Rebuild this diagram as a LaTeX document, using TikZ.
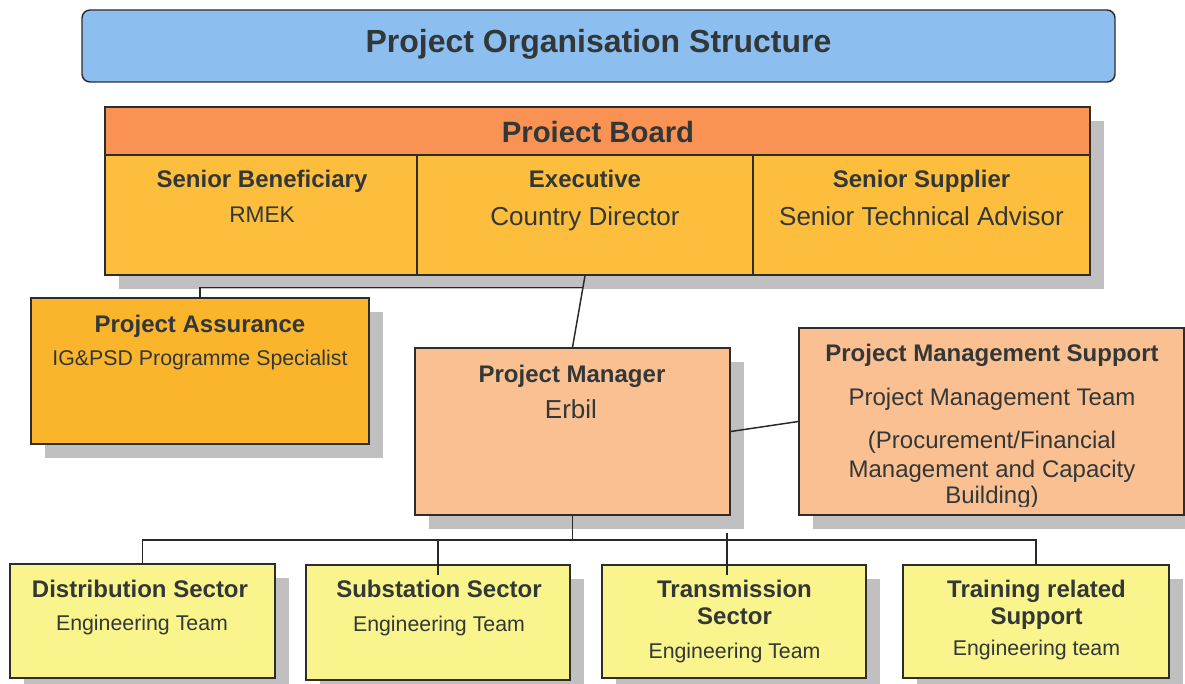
\documentclass[tikz,border=0pt]{standalone}
\usepackage{fontspec}
\setmainfont{Liberation Sans}
\usetikzlibrary{fit,shadows}
\definecolor{titleblue}{RGB}{141,190,240}
\definecolor{hdrorange}{RGB}{249,146,82}
\definecolor{cellorange}{RGB}{253,190,62}
\definecolor{paorange}{RGB}{250,181,45}
\definecolor{pmsalmon}{RGB}{251,192,146}
\definecolor{botyellow}{RGB}{250,244,140}
\definecolor{shgray}{RGB}{192,192,192}
\definecolor{boxline}{RGB}{45,45,45}
\definecolor{linec}{RGB}{40,40,40}
\definecolor{textc}{RGB}{50,55,55}
\begin{document}
\begin{tikzpicture}[x=0.75pt,y=-0.75pt,
  box/.style={draw=boxline, line width=1.1pt, inner sep=0pt},
  shd/.style={drop shadow={shadow xshift=10.5pt, shadow yshift=-10.5pt, fill=shgray, opacity=1}},
  lbl/.style={anchor=base, inner sep=0pt, text=textc},
  ftitle/.style={font=\fontsize{24}{28}\selectfont\bfseries},
  fhdr/.style={font=\fontsize{22}{26}\selectfont\bfseries},
  fb/.style={font=\fontsize{18}{21}\selectfont\bfseries},
  fr/.style={font=\fontsize{18}{21}\selectfont},
  fbig/.style={font=\fontsize{19.5}{23}\selectfont},
  frmek/.style={font=\fontsize{17}{20}\selectfont},
  fsmall/.style={font=\fontsize{16}{19}\selectfont},
  conn/.style={draw=linec, line width=1.1pt}
]
\useasboundingbox (0,0) rectangle (1185,684);
\fill[white] (0,0) rectangle (1185,684);

% title
\node[box, fill=titleblue, rounded corners=6pt, fit={(82,10)(1115,82)}] (title) {};
\node[lbl, ftitle] (titletext) at (598.5,53) {Project Organisation Structure};

% project board
\node[box, shd, fill=cellorange, fit={(105,107)(1090,275)}] (board) {};
\node[box, fill=hdrorange, fit={(105,107)(1090,155)}] (header) {};
\node[box, fill=cellorange, fit={(105,155)(417,275)}] (sb) {};
\node[box, fill=cellorange, fit={(417,155)(753,275)}] (ex) {};
\node[box, fill=cellorange, fit={(753,155)(1090,275)}] (ss) {};
\node[lbl, fhdr] (headertext) at (598,143) {Proiect Board};
\node[lbl, fb] (sb1) at (262,188) {Senior Beneficiary};
\node[lbl, frmek] (sb2) at (262,223) {RMEK};
\node[lbl, fb] (ex1) at (585,188) {Executive};
\node[lbl, fbig] (ex2) at (585,226) {Country Director};
\node[lbl, fb] (ss1) at (921.5,188) {Senior Supplier};
\node[lbl, fbig] (ss2) at (921.5,226) {Senior Technical Advisor};

% project assurance
\node[box, shd, fill=paorange, fit={(31,298)(369,444)}] (pa) {};
\node[lbl, fb] (pa1) at (200,332) {Project Assurance};
\node[lbl, fsmall] (pa2) at (200,365) {IG\&PSD Programme Specialist};

% project manager
\node[box, shd, fill=pmsalmon, fit={(415,348)(730,515)}] (pm) {};
\node[lbl, fb] (pm1) at (572,382) {Project Manager};
\node[lbl, fbig] (pm2) at (571,418) {Erbil};

% project management support
\node[box, shd, fill=pmsalmon, fit={(799,328)(1184,515)}] (pms) {};
\node[lbl, fb] (pms1) at (992,361) {Project Management Support};
\node[lbl, fr] (pms2) at (992,405) {Project Management Team};
\node[lbl, fr] (pms3) at (992,448) {(Procurement/Financial};
\node[lbl, fr] (pms4) at (992,477) {Management and Capacity};
\begin{scope}
  \clip (799,480) rectangle (1184,506);
  \node[lbl, fr] (pms5) at (992,503) {Building)};
\end{scope}

% bottom row
\node[box, shd, fill=botyellow, fit={(10,564)(275,678)}] (dist) {};
\node[box, shd, fill=botyellow, fit={(306,565)(570,680)}] (subs) {};
\node[box, shd, fill=botyellow, fit={(602,565)(866,678)}] (trans) {};
\node[box, shd, fill=botyellow, fit={(903,565)(1169,678)}] (train) {};

\node[lbl, fb] (dist1) at (140,597) {Distribution Sector};
\node[lbl, fsmall] (dist2) at (142,630) {Engineering Team};
\node[lbl, fb] (subs1) at (439,597) {Substation Sector};
\node[lbl, fsmall] (subs2) at (439,631) {Engineering Team};
\node[lbl, fb] (trans1) at (734.5,597) {Transmission};
\node[lbl, fb] (trans2) at (734.5,624) {Sector};
\node[lbl, fsmall] (trans3) at (734.5,658) {Engineering Team};
\node[lbl, fb] (train1) at (1036.5,597) {Training related};
\node[lbl, fb] (train2) at (1036.5,624) {Support};
\node[lbl, fsmall] (train3) at (1036.5,655) {Engineering team};

% connectors
\path (ex.south) -- (pm.north) coordinate[pos=0.164] (j1);
\draw[conn] (ex.south) -- (pm.north);
\draw[conn] (pa.north) |- (j1);
\draw[conn] (pm.east) -- (pms.west);
\coordinate (bus) at (572.5,540);
\draw[conn] (pm.south) -- (bus);
\draw[conn] (dist.north) |- (bus) -| (train.north);
\coordinate (subsin) at (438,575);
\draw[conn] (subsin) -- (subsin |- bus);
\coordinate (transin) at (727,575);
\coordinate (transtop) at (727,533);
\draw[conn] (transin) -- (transtop);
\end{tikzpicture}
\end{document}
